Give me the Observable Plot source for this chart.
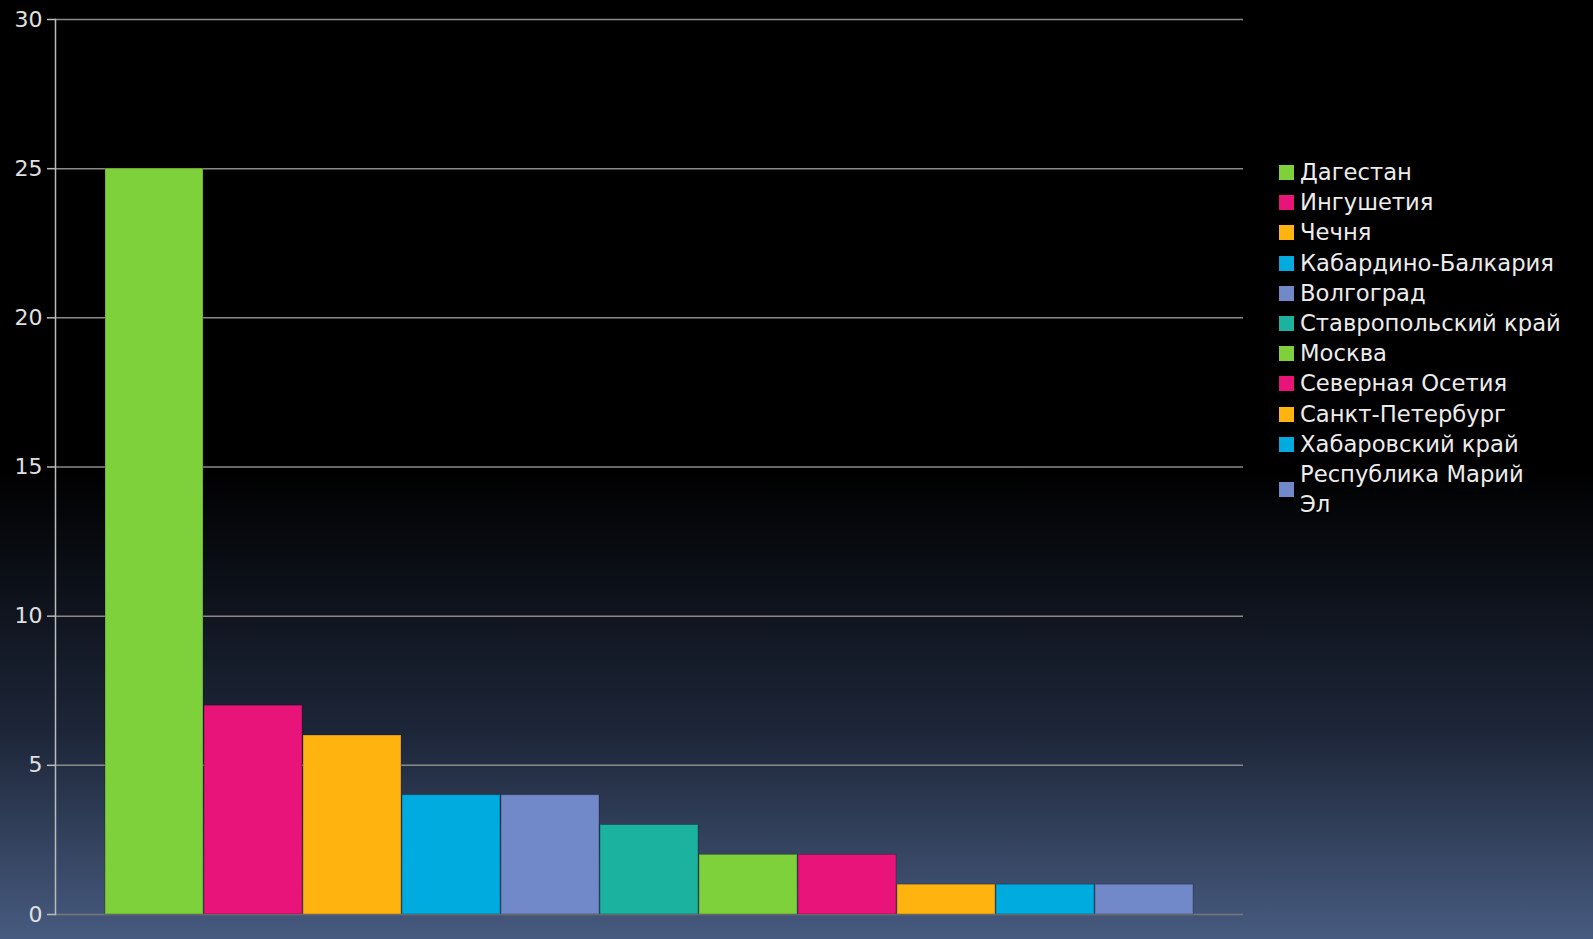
<!DOCTYPE html>
<html>
<head>
<meta charset="utf-8">
<script src="https://cdn.jsdelivr.net/npm/d3@7"></script>
<script src="https://cdn.jsdelivr.net/npm/@observablehq/plot@0.6"></script>
<style>
  html, body { margin: 0; padding: 0; }
  #wrap {
    position: relative; width: 1593px; height: 939px; overflow: hidden;
    background: linear-gradient(to bottom, #000 0%, #000 50%, #0c1018 62%, #1d2639 78%, #34435f 90%, #475b80 100%);
    font-family: "DejaVu Sans", sans-serif;
  }
  #chart { position: absolute; left: 0; top: 0; }
  #legend { position: absolute; left: 1279px; top: 157px; }
  .item { position: relative; height: 30.2px; }
  .sw { position: absolute; left: 0; width: 15px; height: 15px; top: 8px; }
  .lab { position: absolute; left: 21px; top: 0; font-size: 22.7px; line-height: 30px; color: #ececec;
         text-shadow: 0 0 2px #000, 0 0 2px #000; white-space: nowrap; }
</style>
</head>
<body>
<div id="wrap">
  <div id="chart"></div>
  <div id="legend"></div>
</div>
<script>
const regions = ["Дагестан","Ингушетия","Чечня","Кабардино-Балкария","Волгоград","Ставропольский край","Москва","Северная Осетия","Санкт-Петербург","Хабаровский край","Республика Марий Эл"];
const values = [25,7,6,4,4,3,2,2,1,1,1];
const palette = ["#7ed13a","#e8147a","#ffb30f","#00acdf","#7289c9","#1bb3a0"];
const yTicks = [0,5,10,15,20,25,30];

const data = regions.map((r, i) => ({region: r, value: values[i], color: palette[i % palette.length]}));

const chart = Plot.plot({
  width: 1593,
  height: 939,
  marginLeft: 55,
  marginRight: 350,
  marginTop: 19,
  marginBottom: 25,
  style: {background: "transparent", fontFamily: "'DejaVu Sans', sans-serif", fontSize: "22px", color: "#e0e0e0"},
  x: {domain: regions, paddingOuter: 0.5, paddingInner: 0.01, axis: null},
  y: {domain: [0, 30]},
  marks: [
    Plot.ruleY(yTicks.filter(d => d > 0), {stroke: "#8a8a8a", strokeWidth: 1.5}),
    Plot.ruleY([0], {stroke: "#777", strokeWidth: 1.5}),
    Plot.barY(data, {x: "region", y: "value", fill: "color", stroke: "rgba(0,0,0,0.25)", strokeWidth: 1}),
    Plot.axisY({ticks: yTicks, label: null, tickSize: 8, tickPadding: 5, stroke: "#bbb", fill: "#e0e0e0", fontSize: 22, strokeWidth: 1.5}),
    Plot.frame({anchor: "left", stroke: "#bbb", strokeWidth: 1.5})
  ]
});
document.getElementById("chart").appendChild(chart);

const legend = document.getElementById("legend");
data.forEach((d, i) => {
  const item = document.createElement("div");
  item.className = "item";
  const last = i === data.length - 1;
  if (last) item.style.height = "60px";
  const sw = document.createElement("div");
  sw.className = "sw";
  sw.style.background = d.color;
  if (last) sw.style.top = "23px";
  const lab = document.createElement("div");
  lab.className = "lab";
  lab.textContent = d.region;
  if (last) { lab.style.whiteSpace = "normal"; lab.style.width = "235px"; }
  item.appendChild(sw);
  item.appendChild(lab);
  legend.appendChild(item);
});
</script>
</body>
</html>
